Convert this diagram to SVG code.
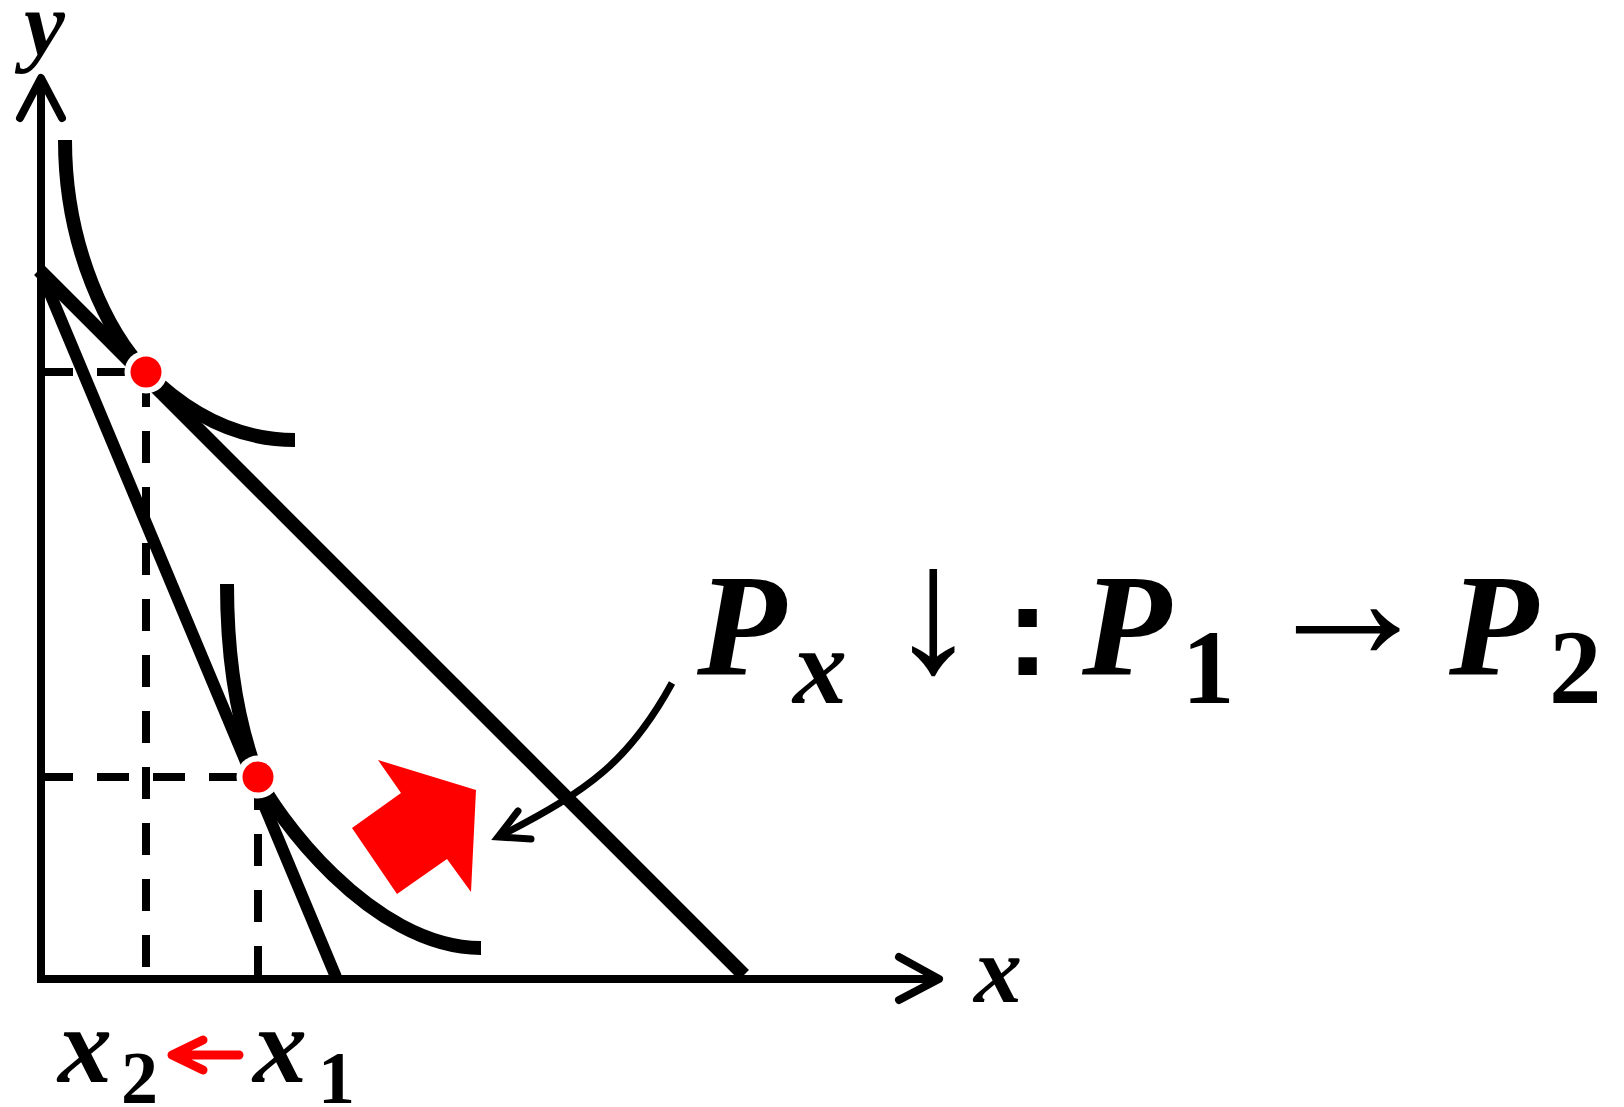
<svg xmlns="http://www.w3.org/2000/svg" width="1624" height="1107" viewBox="0 0 1624 1107">
<style>
.ax{fill:none;stroke:#000;stroke-width:8;stroke-linecap:round;stroke-linejoin:round}
.axl{fill:none;stroke:#000;stroke-width:8;stroke-linecap:butt}
.bl{fill:none;stroke:#000;stroke-linecap:butt}
.ic{fill:none;stroke:#000;stroke-width:14;stroke-linecap:butt}
.dash{fill:none;stroke:#000;stroke-width:8;stroke-dasharray:32 24}
.mi{font-family:"Liberation Serif","Times New Roman",serif;font-weight:bold;font-style:italic;fill:#000}
.mn{font-family:"Liberation Serif","Times New Roman",serif;font-weight:bold;font-style:normal;fill:#000}
.sym{font-family:"Liberation Serif","Times New Roman",serif;font-weight:normal;fill:#000}
.col{font-family:"Liberation Sans",Arial,sans-serif;font-weight:bold;fill:#000}
</style>
<rect width="1624" height="1107" fill="#fff"/>
<g id="dashed-lines">
<line class="dash" x1="41" y1="372" x2="146" y2="372"/>
<line class="dash" x1="146" y1="375" x2="146" y2="979"/>
<line class="dash" x1="41" y1="777" x2="258" y2="777"/>
<line class="dash" x1="258" y1="778" x2="258" y2="979"/>
</g>
<g id="axes">
<line class="axl" x1="41" y1="78" x2="41" y2="983"/>
<line class="axl" x1="37" y1="979" x2="938" y2="979"/>
<polyline class="ax" points="20,118 41,78 62,118"/>
<polyline class="ax" points="899,957 939,979 899,1000"/>
</g>
<g id="budget-lines">
<line class="bl" stroke-width="14" x1="39" y1="270" x2="744" y2="975"/>
<line class="bl" stroke-width="12" x1="41" y1="272" x2="336" y2="977"/>
</g>
<g id="indifference-curves">
<path class="ic" d="M65,140 C65,250 110,336 146,372 C190,416 240,440 295,440"/>
<path class="ic" d="M227,584 C227,670 240,730 258,777 C272,810 370,948 481,948"/>
</g>
<g id="equilibria">
<circle cx="146" cy="372" r="21.5" fill="#fff"/>
<circle cx="146" cy="372" r="15.5" fill="#f00"/>
<circle cx="258" cy="777" r="21.5" fill="#fff"/>
<circle cx="258" cy="777" r="15.5" fill="#f00"/>
</g>
<g id="shift-arrow">
<polygon points="378,760 476,790 471,892 447,859 397,894 352,828 401,793" fill="#f00"/>
</g>
<g id="connectors">
<path d="M672,683 C630,760 590,790 500,836" fill="none" stroke="#000" stroke-width="7"/>
<polyline points="518,811 498,837 531,839" fill="none" stroke="#000" stroke-width="7" stroke-linecap="round" stroke-linejoin="miter" stroke-miterlimit="10"/>
</g>
<g id="axis-labels">
<text class="mi" x="24" y="55" font-size="92">y</text>
<text class="mi" x="974" y="1002" font-size="96">x</text>
</g>
<g id="equation">
<text class="mi" x="697" y="675" font-size="146">P</text>
<text class="mi" x="793" y="703" font-size="108">x</text>
<text class="sym" x="888" y="671" font-size="181">↓</text>
<text class="col" x="1006" y="675" font-size="130">:</text>
<text class="mi" x="1082" y="675" font-size="146">P</text>
<text class="mn" x="1182" y="703" font-size="105">1</text>
<text class="sym" x="1260" y="659" font-size="175">→</text>
<text class="mi" x="1449" y="675" font-size="146">P</text>
<text class="mn" x="1549" y="703" font-size="105">2</text>
</g>
<g id="quantity-labels">
<text class="mi" x="58" y="1082" font-size="108">x</text>
<text class="mn" x="121" y="1103" font-size="74">2</text>
<path d="M239,1055 H176 M203,1040 L172,1055 L203,1070" fill="none" stroke="#f00" stroke-width="9" stroke-linecap="round" stroke-linejoin="round"/>
<text class="mi" x="253" y="1082" font-size="108">x</text>
<text class="mn" x="318" y="1103" font-size="74">1</text>
</g>
</svg>
